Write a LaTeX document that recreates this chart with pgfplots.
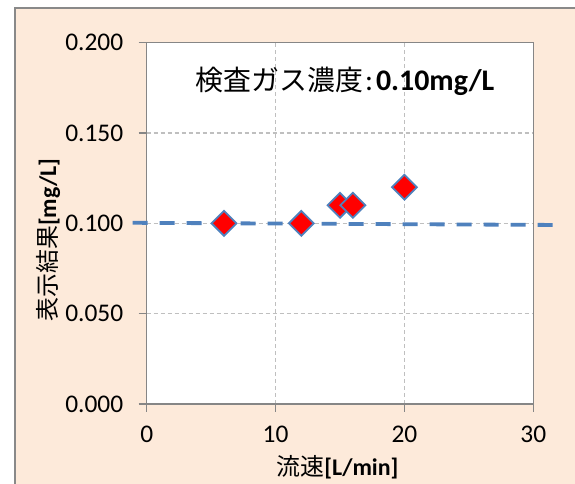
\documentclass[border=0pt]{standalone}
\usepackage{pgfplots}
\pgfplotsset{compat=1.18}
\usepackage{fontspec}
\setmainfont{Carlito}
\newfontfamily\jp{Noto Sans CJK JP}
\definecolor{peach}{HTML}{FDEADA}
\definecolor{framegray}{HTML}{898989}
\definecolor{axgray}{HTML}{868686}
\definecolor{gridgray}{HTML}{BFBFBF}
\definecolor{lineblue}{HTML}{4F81BD}
\begin{document}
\begin{tikzpicture}[x=1bp,y=1bp]
\useasboundingbox (0,0) rectangle (575,484);
\fill[white] (0,0) rectangle (575,484);
\fill[peach] (15,0) rectangle (575,476);
\draw[framegray, line width=2bp] (15,0) -- (15,476) -- (575,476);
\begin{axis}[
 at={(146.7bp,80bp)}, anchor=south west, scale only axis,
 width=386.6bp, height=361.3bp,
 xmin=0, xmax=30, ymin=0, ymax=0.2,
 xtick={0,10,20,30}, ytick={0,0.05,0.1,0.15,0.2},
 axis background/.style={fill=white},
 axis line style={axgray, line width=1.5bp},
 tick style={axgray, line width=1.5bp},
 major tick length=8bp, tick align=outside, tick pos=left,
 grid=major, major grid style={gridgray, line width=1.2bp, dash pattern=on 4bp off 3bp},
 ticklabel style={font=\fontsize{25.5}{28}\selectfont},
 /pgf/number format/assume math mode=true,
 yticklabel style={xshift=-12bp, /pgf/number format/fixed, /pgf/number format/precision=3, /pgf/number format/fixed zerofill},
 xticklabel style={yshift=-10bp},
 scaled y ticks=false,
 clip=false,
]
\addplot[only marks, mark=square*, mark size=8.8bp, mark options={rotate=45, fill=red, draw=lineblue, line width=1.8bp}]
 coordinates {(6,0.1) (12,0.1) (15,0.11) (16,0.11) (20,0.12)};
\addplot[lineblue, line width=3.8bp, dash pattern=on 15bp off 12bp]
 coordinates {(-1.1,0.1003) (31.9,0.0991)};
\end{axis}
\node[font=\fontsize{30}{34}\selectfont] at (345,403) {{\jp\fontsize{28}{34}\selectfont 検査ガス濃度}\kern2bp:\kern3bp\textbf{0.10mg/L}};
\node[font=\fontsize{24}{28}\selectfont] at (337.5,17) {{\jp 流速}\textbf{[L/min]}};
\node[font=\fontsize{24}{28}\selectfont, rotate=90] at (48,244) {{\jp 表示結果}\textbf{[mg/L]}};
\end{tikzpicture}
\end{document}
